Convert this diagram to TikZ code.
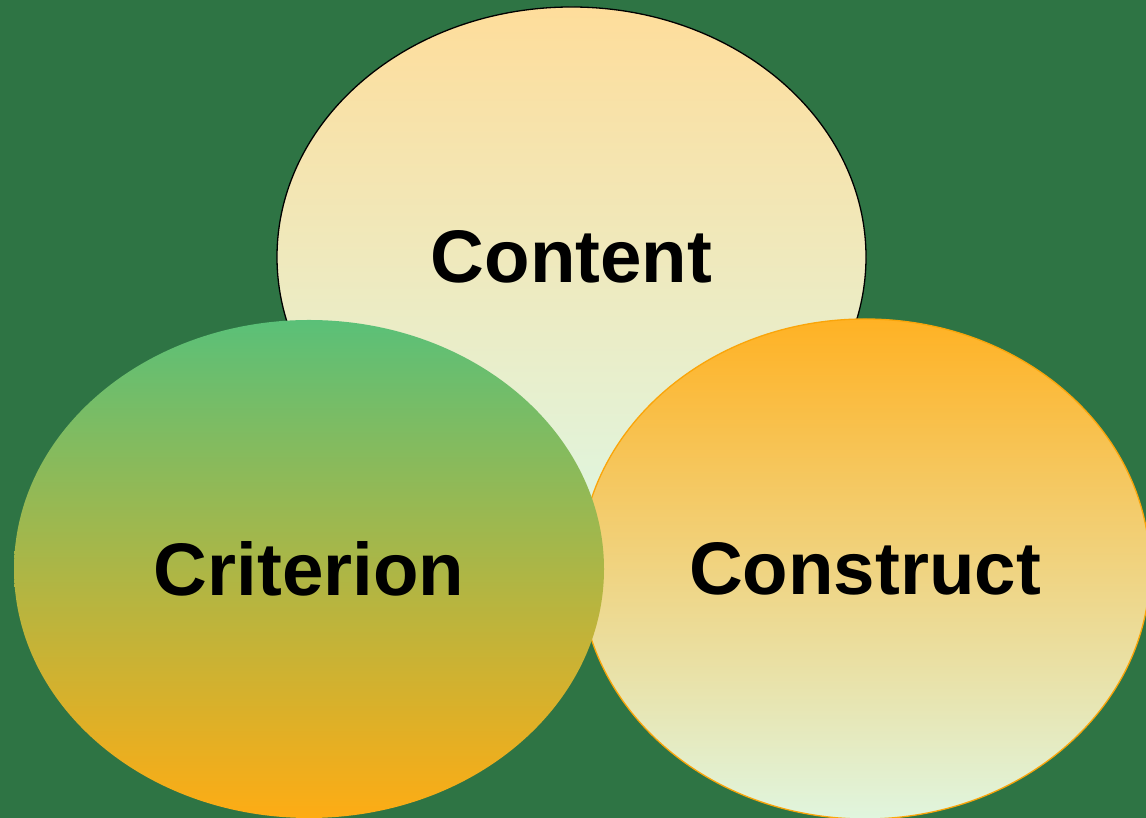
\documentclass[tikz,border=0pt]{standalone}
\usepackage{fontspec}
\setmainfont{Liberation Sans}
\usetikzlibrary{shapes.geometric}
\definecolor{bg}{RGB}{46,116,68}
\definecolor{peach}{RGB}{254,221,155}
\definecolor{mint}{RGB}{224,245,222}
\definecolor{leaf}{RGB}{90,192,120}
\definecolor{olive}{RGB}{196,184,88}
\definecolor{amber}{RGB}{254,172,20}
\definecolor{orangetop}{RGB}{255,178,36}
\definecolor{orangeline}{RGB}{250,165,10}
\tikzset{
  bubble/.style={ellipse, inner sep=0pt, font=\bfseries\fontsize{74.5}{80}\selectfont, text=black},
}
\begin{document}
\begin{tikzpicture}[x=1pt,y=1pt]
\useasboundingbox (0,0) rectangle (1146,818);
\fill[bg] (0,0) rectangle (1146,818);
\node[bubble, minimum width=589pt, minimum height=500pt, top color=peach, bottom color=mint, draw=black, line width=1.3pt] (content) at (571.5,561) {Content};
\node[bubble, minimum width=570pt, minimum height=500pt, top color=orangetop, bottom color=mint, draw=orangeline, line width=1.3pt] (construct) at (865,249) {Construct};
\node[bubble, minimum width=590pt, minimum height=498pt, top color=leaf, middle color=olive, bottom color=amber] (criterion) at (309,249) {Criterion};
\end{tikzpicture}
\end{document}
